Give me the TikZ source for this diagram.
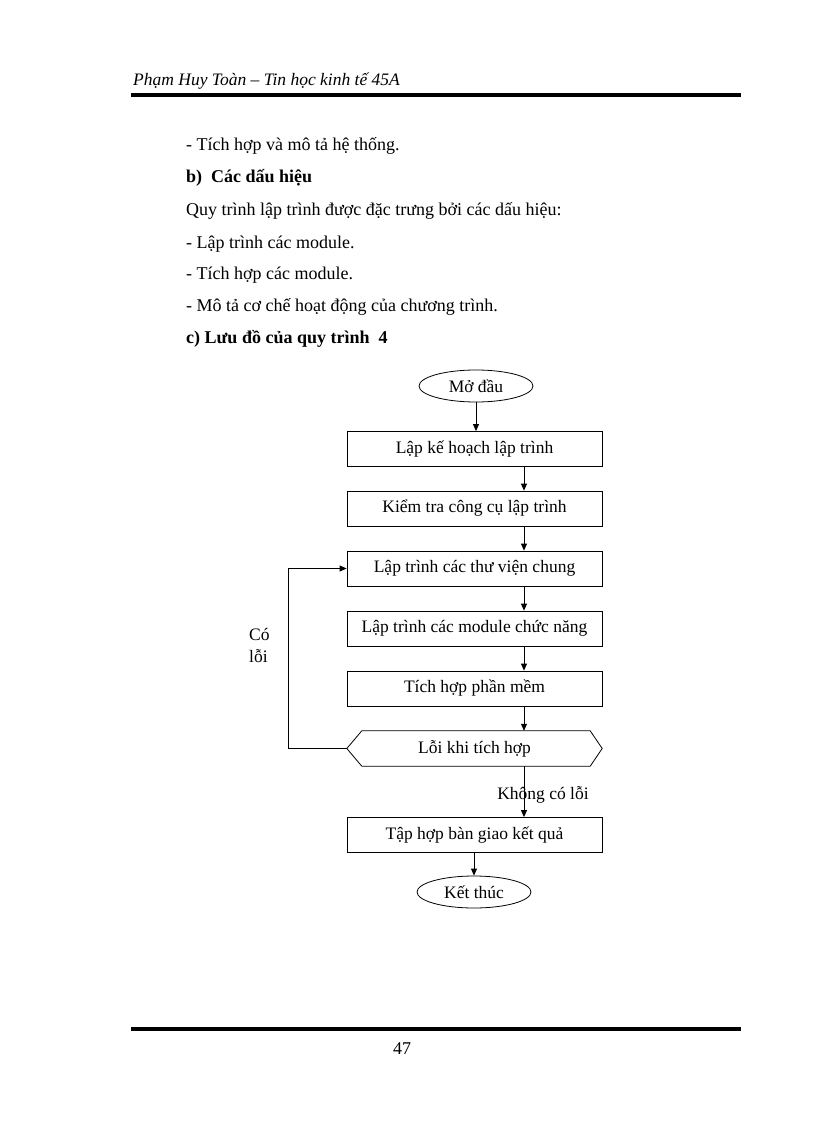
\documentclass[tikz,border=0pt]{standalone}
\usepackage{fontspec}
\setmainfont{Liberation Serif}
\usetikzlibrary{arrows.meta,shapes.geometric}
\begin{document}
\begin{tikzpicture}[x=1pt,y=-1pt,
  body/.style={anchor=base west,font=\fontsize{18}{21}\selectfont,inner sep=0pt},
  bodybold/.style={body,font=\fontsize{18}{21}\selectfont\bfseries},
  flowbox/.style={draw,line width=0.8pt,minimum width=255pt,minimum height=35pt,font=\fontsize{17.5}{20}\selectfont,inner sep=0pt},
  term/.style={draw,ellipse,line width=0.8pt,minimum width=114pt,minimum height=32pt,font=\fontsize{17.5}{20}\selectfont,inner sep=0pt},
  hexbox/.style={minimum width=255pt,minimum height=35pt,font=\fontsize{17.5}{20}\selectfont,inner sep=0pt},
  flowlabel/.style={font=\fontsize{17.5}{22}\selectfont,inner sep=0pt},
  arr/.style={-{Triangle[length=7pt,width=6pt]},line width=0.8pt},
  line/.style={line width=0.8pt}]
\useasboundingbox (0,0) rectangle (816,1123);
% header
\node[anchor=base west,inner sep=0pt,font=\fontsize{17.5}{20}\selectfont\itshape] (hdr) at (133,86) {Phạm Huy Toàn – Tin học kinh tế 45A};
\fill (131,93) rectangle (741,97);
% body text
\node[body] (t1) at (186,151) {- Tích hợp và mô tả hệ thống.};
\node[bodybold] (t2) at (186,183) {b)\ \ Các dấu hiệu};
\node[body] (t3) at (186,216) {Quy trình lập trình được đặc trưng bởi các dấu hiệu:};
\node[body] (t4) at (186,248) {- Lập trình các module.};
\node[body] (t5) at (186,279) {- Tích hợp các module.};
\node[body] (t6) at (186,311) {- Mô tả cơ chế hoạt động của chương trình.};
\node[bodybold] (t7) at (186,343) {c)\ Lưu đồ của quy trình\ \ 4};
% flowchart
\coordinate (col) at (524,0);
\coordinate (loopx) at (288,0);
\node[term] (start) at (476,386) {Mở đầu};
\node[flowbox] (b1) at (474.5,449) {Lập kế hoạch lập trình};
\node[flowbox] (b2) at (474.5,508.5) {Kiểm tra công cụ lập trình};
\node[flowbox] (b3) at (474.5,568.5) {Lập trình các thư viện chung};
\node[flowbox] (b4) at (474.5,628.5) {Lập trình các module chức năng};
\node[flowbox] (b5) at (474.5,688.5) {Tích hợp phần mềm};
\node[hexbox] (hex) at (474.5,748.5) {Lỗi khi tích hợp};
\draw[line] (hex.west) -- ([xshift=15pt]hex.north west) -- ([xshift=-12pt]hex.north east) -- (hex.east) -- ([xshift=-12pt]hex.south east) -- ([xshift=15pt]hex.south west) -- cycle;
\node[flowbox] (b6) at (474.5,835) {Tập hợp bàn giao kết quả};
\node[term] (end) at (474,892) {Kết thúc};
% connectors
\draw[arr] (start.south) -- (start.south |- b1.north);
\draw[arr] (b1.south -| col) -- (b2.north -| col);
\draw[arr] (b2.south -| col) -- (b3.north -| col);
\draw[arr] (b3.south -| col) -- (b4.north -| col);
\draw[arr] (b4.south -| col) -- (b5.north -| col);
\draw[arr] (b5.south -| col) -- (hex.north -| col);
\draw[arr] (hex.south -| col) -- (b6.north -| col);
\draw[arr] (hex.west) -- (hex.west -| loopx) -- (loopx |- b3.west) -- (b3.west);
\draw[arr] (b6.south -| end.north) -- (end.north);
\node[flowlabel,align=left,anchor=north west] (err) at (249,628) {Có\\lỗi};
\node[flowlabel,anchor=base] (noerr) at (543,799) {Không có lỗi};
% footer
\fill (131,1027) rectangle (741,1031);
\node[anchor=base,inner sep=0pt,font=\fontsize{18}{21}\selectfont] (pg) at (402,1054) {47};
\end{tikzpicture}
\end{document}
